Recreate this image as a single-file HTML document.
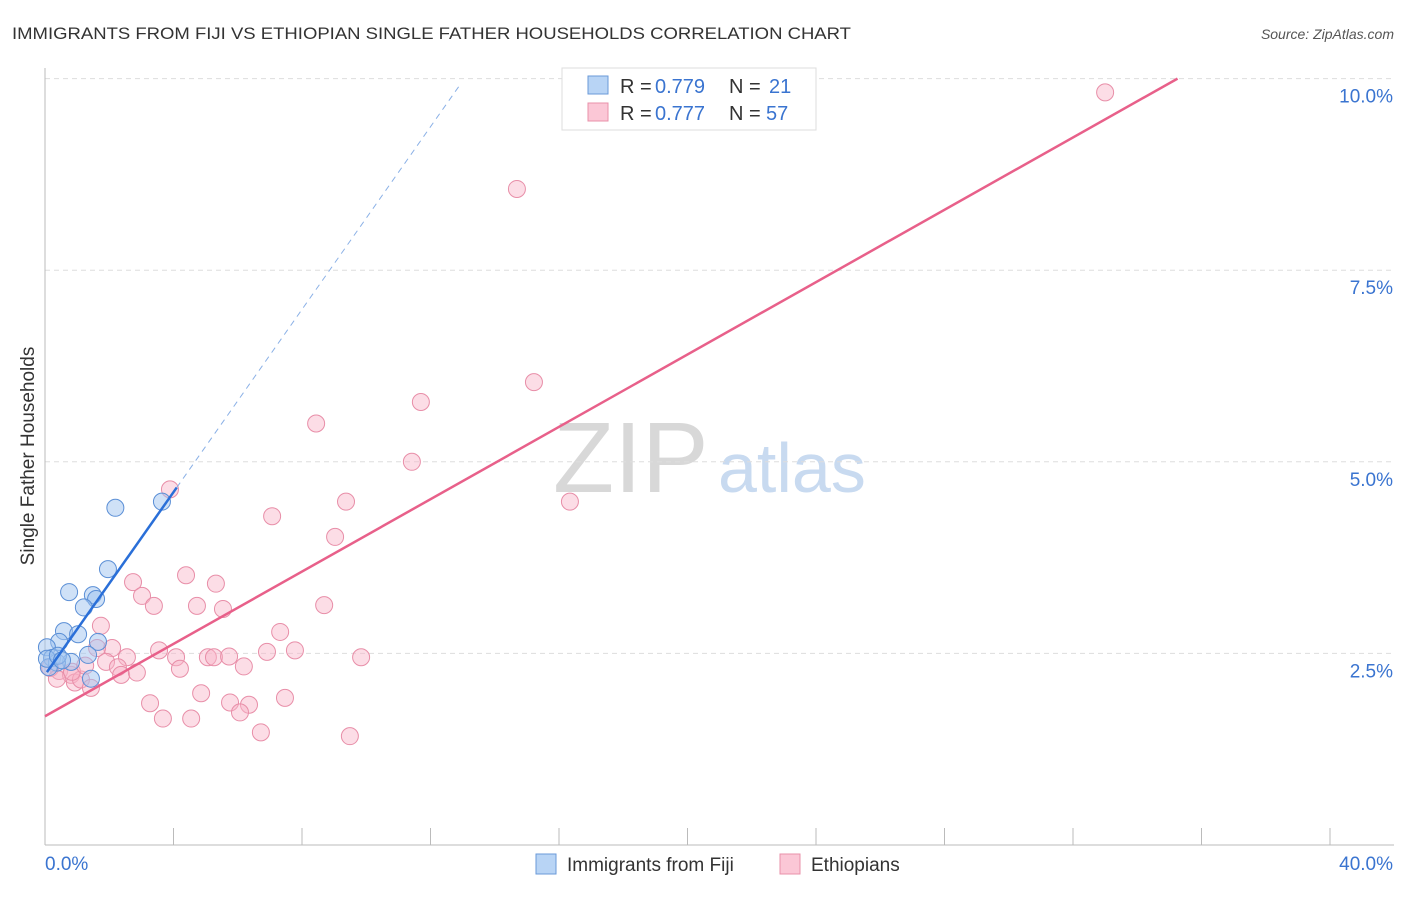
<!DOCTYPE html>
<html><head><meta charset="utf-8"><style>
body{margin:0;background:#fff;font-family:"Liberation Sans",sans-serif}
svg text{font-family:"Liberation Sans",sans-serif}
</style></head><body>
<svg id="c" width="1406" height="892">
<text x="12" y="39" font-size="17" fill="#333" textLength="839" lengthAdjust="spacingAndGlyphs">IMMIGRANTS FROM FIJI VS ETHIOPIAN SINGLE FATHER HOUSEHOLDS CORRELATION CHART</text>
<text x="1394" y="39" font-size="14" fill="#555" font-style="italic" text-anchor="end">Source: ZipAtlas.com</text>
<text x="553" y="492" font-size="100" fill="#d8d8d8" font-family="Liberation Serif">ZIP</text>
<text x="718" y="492" font-size="70" fill="#c8daf0">atlas</text>
<g id="grid"></g><g id="axes"></g><g id="pts"></g><g id="lines"></g>
<text transform="translate(34,456) rotate(-90)" font-size="19" fill="#333" text-anchor="middle">Single Father Households</text>
<g>
<rect x="562" y="68" width="254" height="62" fill="#fff" stroke="#ddd"/>
<rect x="588" y="76" width="20" height="18" fill="#b8d4f5" stroke="#6a9ad8"/>
<rect x="588" y="103" width="20" height="18" fill="#fbc7d6" stroke="#e890aa"/>
<text x="620" y="93" font-size="20" fill="#333">R =</text>
<text x="655" y="93" font-size="20" fill="#3a74d0">0.779</text>
<text x="729" y="93" font-size="20" fill="#333">N =</text>
<text x="769" y="93" font-size="20" fill="#3a74d0">21</text>
<text x="620" y="120" font-size="20" fill="#333">R =</text>
<text x="655" y="120" font-size="20" fill="#3a74d0">0.777</text>
<text x="729" y="120" font-size="20" fill="#333">N =</text>
<text x="766" y="120" font-size="20" fill="#3a74d0">57</text>
</g>
<g>
<rect x="536" y="854" width="20" height="20" fill="#b8d4f5" stroke="#6a9ad8"/>
<text x="567" y="871" font-size="19" fill="#333">Immigrants from Fiji</text>
<rect x="780" y="854" width="20" height="20" fill="#fbc7d6" stroke="#e890aa"/>
<text x="811" y="871" font-size="19" fill="#333">Ethiopians</text>
</g>
</svg>
<script>
const fijiX=[2.19,3.64,1.96,0.75,1.49,1.59,1.21,0.59,1.03,1.65,0.44,0.06,0.22,1.34,0.81,0.37,0.12,0.06,1.43,0.40,0.53];
const fijiY=[4.40,4.48,3.60,3.30,3.26,3.21,3.10,2.79,2.75,2.65,2.65,2.58,2.44,2.48,2.39,2.38,2.32,2.43,2.17,2.47,2.41];
const ethX=[33.0,14.69,15.22,11.70,8.44,11.42,3.89,9.37,16.34,7.07,9.03,4.39,2.74,5.32,3.02,3.39,4.73,8.69,5.54,1.74,7.32,2.09,1.62,3.55,2.55,4.08,5.07,5.26,5.73,6.91,7.78,9.84,1.90,2.27,4.20,6.19,2.37,2.86,0.44,0.16,0.81,0.37,0.93,1.12,1.43,4.86,7.47,3.27,5.76,6.35,6.07,3.67,4.55,6.72,9.49,0.84,1.25];
const ethY=[9.82,8.56,6.04,5.78,5.50,5.00,4.64,4.48,4.48,4.29,4.02,3.52,3.43,3.41,3.25,3.12,3.12,3.13,3.08,2.86,2.78,2.57,2.57,2.54,2.45,2.45,2.45,2.45,2.46,2.52,2.54,2.45,2.39,2.32,2.30,2.33,2.22,2.25,2.27,2.31,2.22,2.17,2.12,2.16,2.05,1.98,1.92,1.85,1.86,1.83,1.73,1.65,1.65,1.47,1.42,2.26,2.34];
const xTicks=[0,4,8,12,16,20,24,28,32,36,40];
const yTicks=[2.5,5,7.5,10];
const yTickLabels=["2.5%","5.0%","7.5%","10.0%"];
const fijiLine=[2.22,0.596], ethLine=[1.68,0.236];
const X=v=>45+v*32.125, Y=v=>845-v*76.64;
const NS="http://www.w3.org/2000/svg";
function mk(p,t,a){const e=document.createElementNS(NS,t);for(const k in a)e.setAttribute(k,a[k]);p.appendChild(e);return e;}
const grid=document.getElementById('grid'),axes=document.getElementById('axes'),pts=document.getElementById('pts'),lines=document.getElementById('lines');
yTicks.forEach((v,i)=>{
 const l=mk(grid,'line',{x1:45,x2:1394,y1:Y(v),y2:Y(v),stroke:'#ddd','stroke-dasharray':'5,4'});
 
 
 const t=mk(axes,'text',{x:1393,y:Y(v)+24,'font-size':19,fill:'#3a74d0','text-anchor':'end'});t.textContent=yTickLabels[i];
 
 
});
mk(axes,'line',{x1:45,x2:45,y1:68,y2:845,stroke:'#bbb'});
mk(axes,'line',{x1:45,x2:1394,y1:845,y2:845,stroke:'#bbb'});
xTicks.forEach(v=>{const l=mk(axes,'line',{x1:X(v),x2:X(v),y1:828,y2:845,stroke:'#bbb'});
 
 });
let t=mk(axes,'text',{x:45,y:870,'font-size':19,fill:'#3a74d0'});t.textContent='0.0%';
t=mk(axes,'text',{x:1393,y:870,'font-size':19,fill:'#3a74d0','text-anchor':'end'});t.textContent='40.0%';
ethX.forEach((x,i)=>{const c=mk(pts,'circle',{cx:X(x),cy:Y(ethY[i]),r:8.5,fill:'rgba(248,180,200,0.45)',stroke:'#e88ea8','stroke-width':1});
 
 });
fijiX.forEach((x,i)=>{const c=mk(pts,'circle',{cx:X(x),cy:Y(fijiY[i]),r:8.5,fill:'rgba(160,196,240,0.5)',stroke:'#5b8fd6','stroke-width':1});
 
 });
const f=x=>fijiLine[0]+fijiLine[1]*x, e=x=>ethLine[0]+ethLine[1]*x;
let l=mk(lines,'line',{x1:X(0.06),y1:Y(f(0.06)),x2:X(4.1),y2:Y(f(4.1)),stroke:'#2a6fd8','stroke-width':2.5});


l=mk(lines,'line',{x1:X(4.1),y1:Y(f(4.1)),x2:X(12.9),y2:Y(f(12.9)),stroke:'#8ab0e6','stroke-width':1,'stroke-dasharray':'6,5'});


const xe=(10-ethLine[0])/ethLine[1];
l=mk(lines,'line',{x1:X(0),y1:Y(e(0)),x2:X(xe),y2:Y(10),stroke:'#e8608a','stroke-width':2.5});


</script>
</body></html>
